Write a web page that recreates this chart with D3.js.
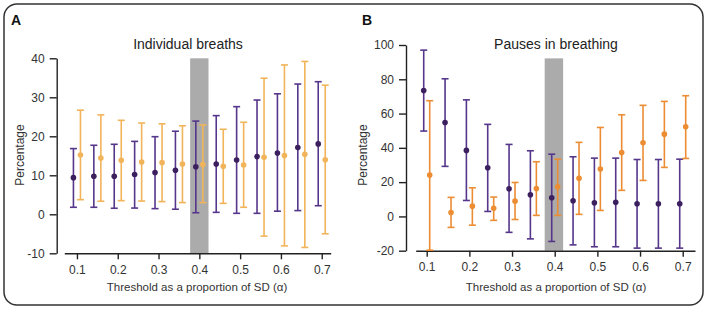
<!DOCTYPE html>
<html lang="en">
<head>
    <meta charset="UTF-8">
    <title>Breathing thresholds</title>
    <script src="https://d3js.org/d3.v7.min.js"></script>
    <style>
        body {
            margin: 0;
            background: #fff;
            font-family: "Liberation Sans", Arial, sans-serif;
        }
        .axis path, .axis line {
            stroke: #222;
            stroke-width: 1.4px;
        }
        .axis text {
            font-size: 12px;
            fill: #333;
            font-family: "Liberation Sans", Arial, sans-serif;
        }
    </style>
</head>
<body>
    <svg id="chart" width="708" height="311"></svg>

    <script>
        // Threshold values (alpha)
        const alphas = [0.1, 0.15, 0.2, 0.25, 0.3, 0.35, 0.4, 0.45, 0.5, 0.55, 0.6, 0.65, 0.7];
        const xTicks = [0.1, 0.2, 0.3, 0.4, 0.5, 0.6, 0.7];

        // Panel A - individual breaths
        const breathsTicks = [-10, 0, 10, 20, 30, 40];
        const breathsPurpleMean = [9.4, 9.75, 9.75, 10.2, 10.7, 11.3, 12.2, 12.9, 13.9, 14.8, 15.7, 17.1, 18.05];
        const breathsPurpleLow = [1.8, 1.8, 1.55, 1.6, 1.45, 1.3, 0.4, 0.5, 0.25, 0.25, 0.8, 0.95, 2.2];
        const breathsPurpleHigh = [16.85, 17.7, 17.95, 18.7, 19.9, 21.3, 23.9, 25.3, 27.6, 29.3, 30.9, 33.4, 34.0];
        const breathsOrangeMean = [15.2, 14.45, 13.85, 13.4, 13.25, 12.9, 12.75, 12.3, 12.65, 14.6, 15.05, 15.4, 14.0];
        const breathsOrangeLow = [3.75, 3.35, 3.5, 3.4, 3.25, 3.0, 3.0, 2.8, 1.8, -5.6, -8.1, -8.5, -5.0];
        const breathsOrangeHigh = [26.7, 25.5, 24.1, 23.4, 23.2, 22.7, 22.9, 21.8, 23.6, 34.9, 38.3, 39.2, 33.1];

        // Panel B - pauses in breathing
        const pausesTicks = [-20, 0, 20, 40, 60, 80, 100];
        const pausesPurpleMean = [73.5, 54.8, 38.5, 28.4, 16.1, 12.6, 10.9, 9.1, 7.9, 8.2, 7.4, 7.4, 7.4];
        const pausesPurpleLow = [49.8, 29.2, 9.3, 2.9, -9.3, -13.1, -14.6, -16.6, -17.7, -17.7, -18.5, -18.5, -18.5];
        const pausesPurpleHigh = [97.0, 80.3, 68.0, 53.7, 42.0, 38.3, 36.3, 34.8, 34.0, 34.0, 33.2, 33.2, 33.4];
        const pausesOrangeMean = [24.1, 2.3, 6.0, 4.7, 8.9, 16.3, 17.3, 22.2, 27.6, 37.3, 43.0, 48.0, 52.3];
        const pausesOrangeLow = [-19.7, -6.4, -5.1, -2.3, -1.8, 0.6, 0.6, 1.2, 3.5, 15.2, 21.0, 28.6, 33.8];
        const pausesOrangeHigh = [67.5, 11.1, 16.7, 11.3, 19.8, 31.9, 33.4, 43.2, 51.9, 59.3, 64.8, 67.1, 70.4];

        const svg = d3.select("#chart");

        // Outer rounded frame
        svg.append("rect")
            .attr("x", 4).attr("y", 4)
            .attr("width", 699).attr("height", 301)
            .attr("rx", 13)
            .attr("fill", "none")
            .attr("stroke", "#333")
            .attr("stroke-width", 1.5);

        function makeSeries(mean, low, high) {
            return alphas.map((a, i) => ({ a: a, mean: mean[i], low: low[i], high: high[i] }));
        }

        const panels = [
            {
                letter: "A", letterX: 16, title: "Individual breaths", titleX: 188,
                xDomain: [0.069, 0.722], xRange: [64.3, 330.7],
                yDomain: [-10, 40], yRange: [253.3, 58.3], yAxisX: 56.7,
                yTicks: breathsTicks, band: [0.3775, 0.4225, 40],
                labelX: 20, xLabelX: 197,
                offset: 0.0086,
                purple: makeSeries(breathsPurpleMean, breathsPurpleLow, breathsPurpleHigh),
                orange: makeSeries(breathsOrangeMean, breathsOrangeLow, breathsOrangeHigh),
                orangeColor: "#f2b45a"
            },
            {
                letter: "B", letterX: 367, title: "Pauses in breathing", titleX: 556,
                xDomain: [0.0742, 0.7288], xRange: [415.7, 695],
                yDomain: [-20, 100], yRange: [250.7, 45], yAxisX: 406,
                yTicks: pausesTicks, band: [0.3765, 0.4197, 92.2],
                labelX: 363, xLabelX: 556,
                offset: 0.007,
                purple: makeSeries(pausesPurpleMean, pausesPurpleLow, pausesPurpleHigh),
                orange: makeSeries(pausesOrangeMean, pausesOrangeLow, pausesOrangeHigh),
                orangeColor: "#ec8d33"
            }
        ];

        panels.forEach(p => {
            const x = d3.scaleLinear().domain(p.xDomain).range(p.xRange);
            const y = d3.scaleLinear().domain(p.yDomain).range(p.yRange);
            const g = svg.append("g");

            // Panel letter
            g.append("text")
                .attr("x", p.letterX).attr("y", 25)
                .attr("text-anchor", "middle")
                .attr("font-size", "14px")
                .attr("font-weight", "bold")
                .attr("fill", "#111")
                .text(p.letter);

            // Title
            g.append("text")
                .attr("x", p.titleX).attr("y", 49)
                .attr("text-anchor", "middle")
                .attr("font-size", "14px")
                .attr("fill", "#222")
                .text(p.title);

            // Grey band marking the chosen threshold
            g.append("rect")
                .attr("x", x(p.band[0]))
                .attr("y", y(p.band[2]))
                .attr("width", x(p.band[1]) - x(p.band[0]))
                .attr("height", y(p.yDomain[0]) - y(p.band[2]))
                .attr("fill", "#ababab");

            // Axes
            g.append("g")
                .attr("class", "axis")
                .attr("transform", `translate(0,${y(p.yDomain[0])})`)
                .call(d3.axisBottom(x).tickValues(xTicks).tickSize(6).tickSizeOuter(0).tickPadding(6).tickFormat(d => d.toFixed(1)));

            g.append("g")
                .attr("class", "axis")
                .attr("transform", `translate(${p.yAxisX},0)`)
                .call(d3.axisLeft(y).tickValues(p.yTicks).tickSize(7).tickSizeOuter(0).tickPadding(5).tickFormat(d => String(d)));

            // Axis labels
            g.append("text")
                .attr("transform", `translate(${p.labelX},155) rotate(-90)`)
                .attr("text-anchor", "middle")
                .attr("dy", "0.35em")
                .attr("font-size", "12px")
                .attr("fill", "#333")
                .text("Percentage");

            g.append("text")
                .attr("x", p.xLabelX).attr("y", 291)
                .attr("text-anchor", "middle")
                .attr("font-size", "11.5px")
                .attr("fill", "#333")
                .text("Threshold as a proportion of SD (α)");

            // Error bars with means
            const groups = [
                { data: p.purple, shift: -p.offset, line: "#55368a", dot: "#3b1f5e" },
                { data: p.orange, shift: p.offset, line: p.orangeColor, dot: p.orangeColor }
            ];

            groups.forEach(s => {
                const bars = g.append("g").selectAll("g")
                    .data(s.data)
                    .enter().append("g");

                bars.append("line")
                    .attr("x1", d => x(d.a + s.shift)).attr("x2", d => x(d.a + s.shift))
                    .attr("y1", d => y(d.low)).attr("y2", d => y(d.high))
                    .attr("stroke", s.line).attr("stroke-width", 1.6);

                ["low", "high"].forEach(k => {
                    bars.append("line")
                        .attr("x1", d => x(d.a + s.shift) - 3.5).attr("x2", d => x(d.a + s.shift) + 3.5)
                        .attr("y1", d => y(d[k])).attr("y2", d => y(d[k]))
                        .attr("stroke", s.line).attr("stroke-width", 1.6);
                });

                bars.append("circle")
                    .attr("cx", d => x(d.a + s.shift))
                    .attr("cy", d => y(d.mean))
                    .attr("r", 2.8)
                    .attr("fill", s.dot);
            });
        });
    </script>
</body>
</html>
